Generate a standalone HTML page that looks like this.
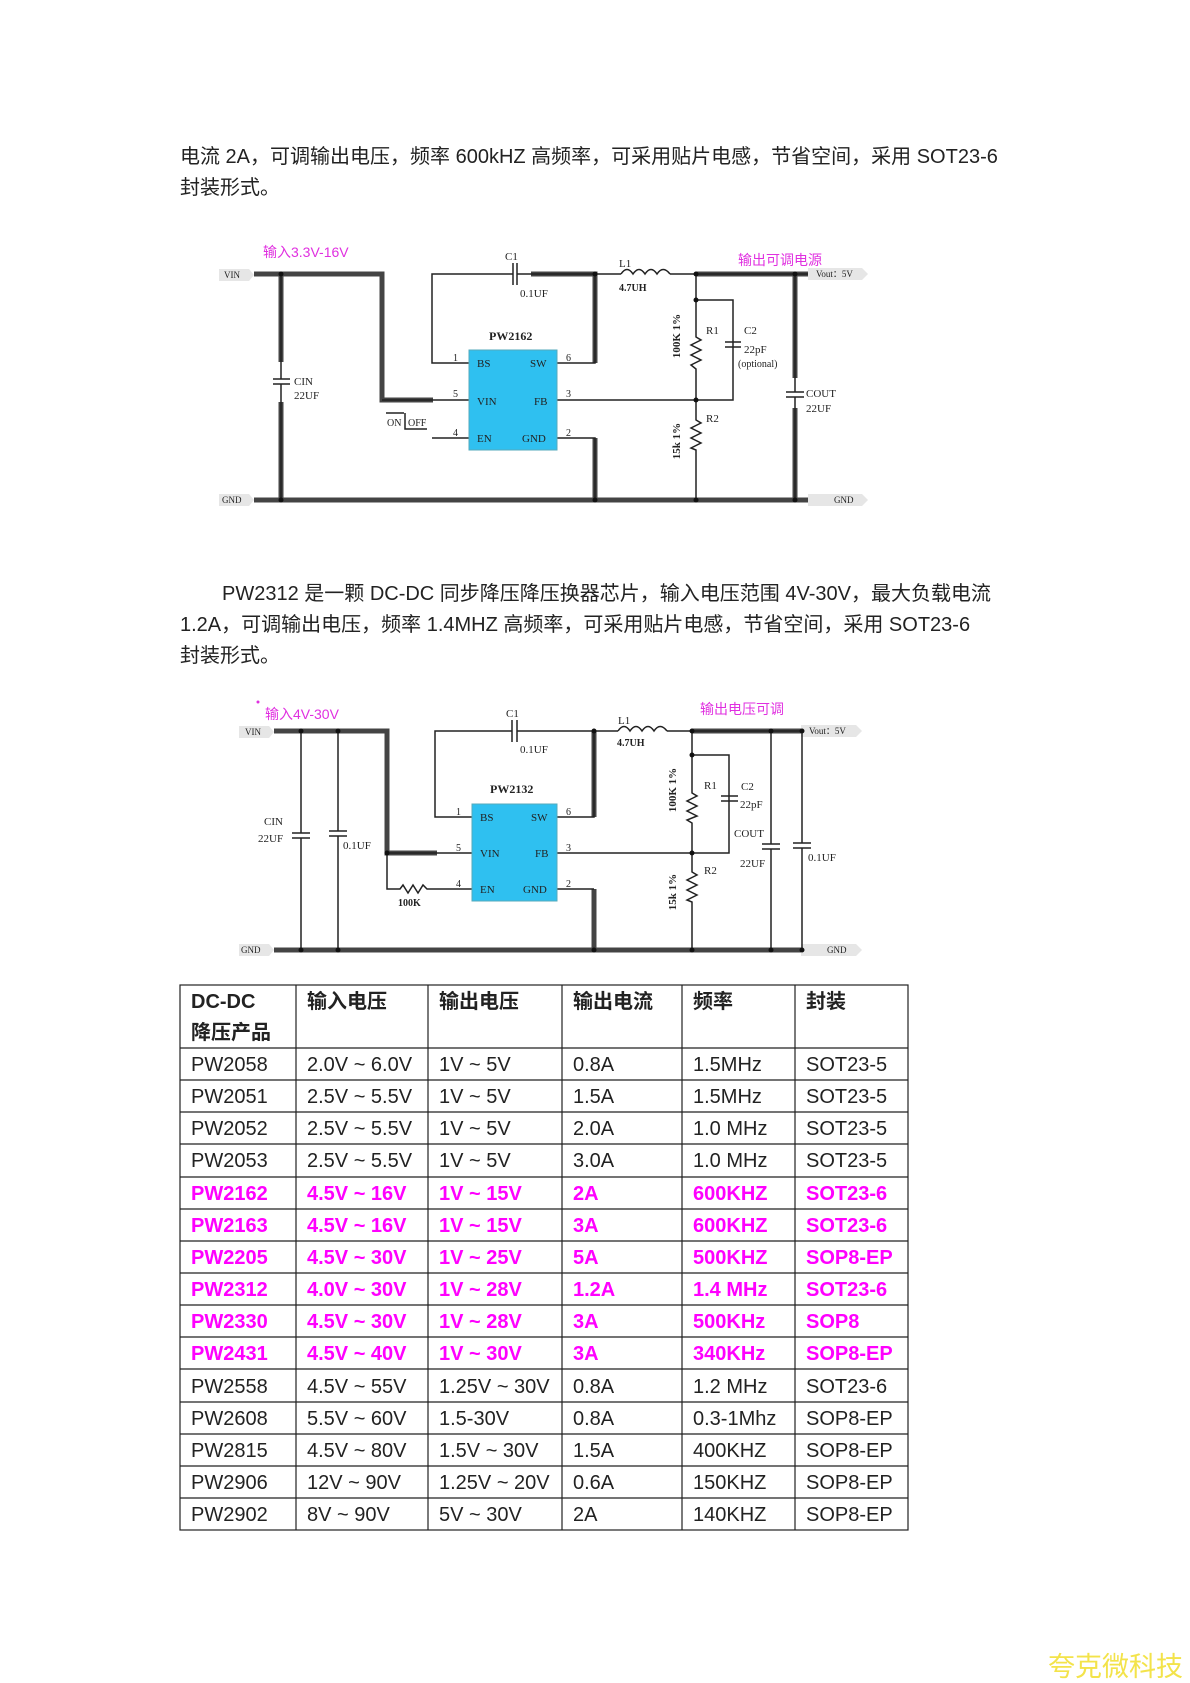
<!DOCTYPE html>
<html><head><meta charset="utf-8"><style>
html,body{margin:0;padding:0;background:#fff;width:1190px;height:1683px;overflow:hidden}
svg{display:block}
.p{font-family:"Liberation Sans","Noto Sans CJK SC",sans-serif;font-size:20px;fill:#222}
.s{font-family:"Liberation Serif",serif;fill:#222}
.m{font-family:"Liberation Sans","Noto Sans CJK SC",sans-serif;fill:#e030e0;font-size:14px}
.t{font-family:"Liberation Sans","Noto Sans CJK SC",sans-serif;font-size:20px;fill:#222}
.tm{fill:#ff00ff;font-weight:bold}
.w{stroke:#222;stroke-width:1.5;fill:none}
.k{stroke:#444;stroke-width:5;fill:none}
</style></head><body>
<svg width="1190" height="1683" viewBox="0 0 1190 1683" xmlns="http://www.w3.org/2000/svg">
<text class="p" x="180" y="163">电流 2A，可调输出电压，频率 600kHZ 高频率，可采用贴片电感，节省空间，采用 SOT23-6</text>
<text class="p" x="180" y="194">封装形式。</text>

<!-- Diagram 1 -->
<g>
<polygon points="219,269 249,269 254,275 249,281 219,281" fill="#e6e6e6"/>
<text class="s" x="224" y="278" font-size="9">VIN</text>
<polygon points="219,494 249,494 254,500 249,506 219,506" fill="#e6e6e6"/>
<text class="s" x="222" y="503" font-size="9">GND</text>
<polygon points="808,268 862,268 868,274 862,280 808,280" fill="#e6e6e6"/>
<text class="s" x="816" y="277" font-size="9">Vout：5V</text>
<polygon points="808,494 862,494 868,500 862,506 808,506" fill="#e6e6e6"/>
<text class="s" x="834" y="503" font-size="9">GND</text>
<path class="k" d="M254,274 H382 V400 H433"/>
<path class="k" d="M531,274 H595 V363"/>
<path class="k" d="M696,274 H808"/>
<path class="k" d="M254,500 H808"/>
<path class="k" d="M595,438 V500"/>
<path class="k" d="M281,274 V362 M281,402 V500"/>
<path class="k" d="M795,274 V378 M795,408 V500"/>
<path class="w" d="M382,400 H469"/>
<path class="w" d="M469,363 H432 V274 H513 M517,274 H595 V363 H557"/>
<path class="w" d="M595,274 H621 M670,274 H808"/>
<path class="w" d="M621,274 q6,-9 12,0 q6,-9 12,0 q6,-9 12,0 q6,-9 13,0"/>
<path class="w" d="M557,400 H733 V300 H696"/>
<path class="w" d="M696,274 V337 l5,3 -10,5 10,5 -10,5 10,5 -10,5 5,4 V420 l5,3 -10,5 10,5 -10,5 10,5 -10,5 5,2 V500"/>
<path class="w" d="M725,342 H741 M725,347 H741"/>
<path class="w" d="M273,379 H290 M273,384 H290 M281,274 V379 M281,384 V500"/>
<path class="w" d="M786,392 H804 M786,397 H804 M795,274 V392 M795,397 V500"/>
<path class="w" d="M513,263 V285 M517,263 V285" stroke-width="2"/>
<path class="w" d="M557,438 H595 V500 M432,438 H469"/>
<path class="w" d="M405,413 V429 H427 M386,413 H404"/>
<g fill="#111"><circle cx="281" cy="274" r="2.5"/><circle cx="281" cy="500" r="2.5"/><circle cx="595" cy="274" r="2.5"/><circle cx="595" cy="500" r="2.5"/><circle cx="696" cy="274" r="2.5"/><circle cx="696" cy="300" r="2.5"/><circle cx="696" cy="400" r="2.5"/><circle cx="696" cy="500" r="2.5"/><circle cx="795" cy="274" r="2.5"/><circle cx="795" cy="500" r="2.5"/></g>
<rect x="469" y="350" width="88" height="100" fill="#2fc0f0" stroke="#5ab"/>
<g class="s" font-size="11"><text x="477" y="367">BS</text><text x="530" y="367">SW</text><text x="477" y="405">VIN</text><text x="534" y="405">FB</text><text x="477" y="442">EN</text><text x="522" y="442">GND</text>
<text x="453" y="361" font-size="10">1</text><text x="453" y="397" font-size="10">5</text><text x="453" y="436" font-size="10">4</text><text x="566" y="361" font-size="10">6</text><text x="566" y="397" font-size="10">3</text><text x="566" y="436" font-size="10">2</text>
<text x="505" y="260">C1</text><text x="520" y="297">0.1UF</text><text x="619" y="267">L1</text><text x="619" y="291" font-weight="bold" font-size="10">4.7UH</text>
<text x="489" y="340" font-weight="bold" font-size="12">PW2162</text>
<text x="706" y="334">R1</text><text x="744" y="334">C2</text><text x="744" y="353">22pF</text><text x="738" y="367" font-size="10">(optional)</text>
<text x="706" y="422">R2</text>
<text x="294" y="385">CIN</text><text x="294" y="399">22UF</text>
<text x="806" y="397">COUT</text><text x="806" y="412">22UF</text>
<text x="387" y="426" font-size="10">ON</text><text x="408" y="426" font-size="10">OFF</text>
<text transform="translate(676,336) rotate(-90)" text-anchor="middle" font-weight="bold" font-size="11" dy="4">100K 1%</text>
<text transform="translate(676,441) rotate(-90)" text-anchor="middle" font-weight="bold" font-size="11" dy="4">15k 1%</text>
</g>
<text class="m" x="263" y="257">输入3.3V-16V</text>
<text class="m" x="738" y="265">输出可调电源</text>
</g>

<text class="p" x="222" y="600">PW2312 是一颗 DC-DC 同步降压降压换器芯片，输入电压范围 4V-30V，最大负载电流</text>
<text class="p" x="180" y="631">1.2A，可调输出电压，频率 1.4MHZ 高频率，可采用贴片电感，节省空间，采用 SOT23-6</text>
<text class="p" x="180" y="662">封装形式。</text>

<!-- Diagram 2 -->
<g>
<polygon points="239,726 269,726 274,732 269,738 239,738" fill="#e6e6e6"/>
<text class="s" x="245" y="735" font-size="9">VIN</text>
<polygon points="239,944 269,944 274,950 269,956 239,956" fill="#e6e6e6"/>
<text class="s" x="241" y="953" font-size="9">GND</text>
<polygon points="801,725 856,725 862,731 856,737 801,737" fill="#e6e6e6"/>
<text class="s" x="809" y="734" font-size="9">Vout：5V</text>
<polygon points="801,944 856,944 862,950 856,956 801,956" fill="#e6e6e6"/>
<text class="s" x="827" y="953" font-size="9">GND</text>
<path class="k" d="M274,731 H387 V853 H437"/>
<path class="k" d="M594,731 V817"/>
<path class="k" d="M692,731 H801"/>
<path class="k" d="M274,950 H801"/>
<path class="k" d="M594,889 V950"/>
<path class="w" d="M387,853 H472 M472,817 H435 V731 H512 M517,731 H594 V817 H557"/>
<path class="w" d="M594,731 H618 M667,731 H801"/>
<path class="w" d="M618,731 q6,-9 12,0 q6,-9 12,0 q6,-9 12,0 q6,-9 13,0"/>
<path class="w" d="M512,720 V742 M517,720 V742" stroke-width="2"/>
<path class="w" d="M387,853 V889 H400 l3,-4 5,8 5,-8 5,8 5,-8 4,4 H472"/>
<path class="w" d="M557,853 H729 V755 H692"/>
<path class="w" d="M692,731 V793 l5,3 -10,5 10,5 -10,5 10,5 -10,4 5,3 V872 l5,3 -10,5 10,5 -10,5 10,5 -10,5 5,2 V950"/>
<path class="w" d="M721,796 H738 M721,801 H738"/>
<path class="w" d="M301,731 V833 M301,838 V950 M292,833 H310 M292,838 H310"/>
<path class="w" d="M338,731 V831 M338,836 V950 M329,831 H347 M329,836 H347"/>
<path class="w" d="M771,731 V844 M771,849 V950 M762,844 H780 M762,849 H780"/>
<path class="w" d="M802,731 V843 M802,848 V950 M793,843 H811 M793,848 H811"/>
<path class="w" d="M557,889 H594"/>
<g fill="#111"><circle cx="301" cy="731" r="2.5"/><circle cx="338" cy="731" r="2.5"/><circle cx="301" cy="950" r="2.5"/><circle cx="338" cy="950" r="2.5"/><circle cx="387" cy="853" r="2.5"/><circle cx="594" cy="731" r="2.5"/><circle cx="594" cy="950" r="2.5"/><circle cx="692" cy="731" r="2.5"/><circle cx="692" cy="755" r="2.5"/><circle cx="692" cy="853" r="2.5"/><circle cx="692" cy="950" r="2.5"/><circle cx="771" cy="731" r="2.5"/><circle cx="771" cy="950" r="2.5"/><circle cx="802" cy="731" r="2.5"/><circle cx="802" cy="950" r="2.5"/></g>
<rect x="472" y="804" width="85" height="97" fill="#2fc0f0" stroke="#5ab"/>
<g class="s" font-size="11"><text x="480" y="821">BS</text><text x="531" y="821">SW</text><text x="480" y="857">VIN</text><text x="535" y="857">FB</text><text x="480" y="893">EN</text><text x="523" y="893">GND</text>
<text x="456" y="815" font-size="10">1</text><text x="456" y="851" font-size="10">5</text><text x="456" y="887" font-size="10">4</text><text x="566" y="815" font-size="10">6</text><text x="566" y="851" font-size="10">3</text><text x="566" y="887" font-size="10">2</text>
<text x="506" y="717">C1</text><text x="520" y="753">0.1UF</text><text x="618" y="724">L1</text><text x="617" y="746" font-weight="bold" font-size="10">4.7UH</text>
<text x="490" y="793" font-weight="bold" font-size="12">PW2132</text>
<text x="704" y="789">R1</text><text x="741" y="790">C2</text><text x="740" y="808">22pF</text>
<text x="734" y="837">COUT</text><text x="740" y="867">22UF</text><text x="808" y="861">0.1UF</text>
<text x="704" y="874">R2</text>
<text x="264" y="825">CIN</text><text x="258" y="842">22UF</text><text x="343" y="849">0.1UF</text>
<text x="398" y="906" font-weight="bold" font-size="10">100K</text>
<text transform="translate(672,790) rotate(-90)" text-anchor="middle" font-weight="bold" font-size="11" dy="4">100K 1%</text>
<text transform="translate(672,892) rotate(-90)" text-anchor="middle" font-weight="bold" font-size="11" dy="4">15k 1%</text>
</g>
<circle cx="258" cy="702" r="1.5" fill="#e030e0"/>
<text class="m" x="265" y="719">输入4V-30V</text>
<text class="m" x="700" y="714">输出电压可调</text>
</g>

<!-- Table -->
<g stroke="#222" stroke-width="1.2" fill="none">
<rect x="180" y="985" width="728" height="545"/>
<path d="M296,985 V1530 M428,985 V1530 M562,985 V1530 M682,985 V1530 M795,985 V1530"/>
<path d="M180,1048 H908 M180,1080 H908 M180,1112 H908 M180,1144 H908 M180,1177 H908 M180,1209 H908 M180,1241 H908 M180,1273 H908 M180,1305 H908 M180,1337 H908 M180,1369 H908 M180,1402 H908 M180,1434 H908 M180,1466 H908 M180,1498 H908"/>
</g>
<g class="t" font-weight="bold">
<text x="191" y="1008">DC-DC</text><text x="191" y="1039">降压产品</text>
<text x="307" y="1008">输入电压</text><text x="439" y="1008">输出电压</text><text x="573" y="1008">输出电流</text><text x="693" y="1008">频率</text><text x="806" y="1008">封装</text>
</g>
<g class="t">
<g transform="translate(0,1071)"><text x="191">PW2058</text><text x="307">2.0V ~ 6.0V</text><text x="439">1V ~ 5V</text><text x="573">0.8A</text><text x="693">1.5MHz</text><text x="806">SOT23-5</text></g>
<g transform="translate(0,1103)"><text x="191">PW2051</text><text x="307">2.5V ~ 5.5V</text><text x="439">1V ~ 5V</text><text x="573">1.5A</text><text x="693">1.5MHz</text><text x="806">SOT23-5</text></g>
<g transform="translate(0,1135)"><text x="191">PW2052</text><text x="307">2.5V ~ 5.5V</text><text x="439">1V ~ 5V</text><text x="573">2.0A</text><text x="693">1.0 MHz</text><text x="806">SOT23-5</text></g>
<g transform="translate(0,1167)"><text x="191">PW2053</text><text x="307">2.5V ~ 5.5V</text><text x="439">1V ~ 5V</text><text x="573">3.0A</text><text x="693">1.0 MHz</text><text x="806">SOT23-5</text></g>
<g class="tm">
<g transform="translate(0,1200)"><text x="191">PW2162</text><text x="307">4.5V ~ 16V</text><text x="439">1V ~ 15V</text><text x="573">2A</text><text x="693">600KHZ</text><text x="806">SOT23-6</text></g>
<g transform="translate(0,1232)"><text x="191">PW2163</text><text x="307">4.5V ~ 16V</text><text x="439">1V ~ 15V</text><text x="573">3A</text><text x="693">600KHZ</text><text x="806">SOT23-6</text></g>
<g transform="translate(0,1264)"><text x="191">PW2205</text><text x="307">4.5V ~ 30V</text><text x="439">1V ~ 25V</text><text x="573">5A</text><text x="693">500KHZ</text><text x="806">SOP8-EP</text></g>
<g transform="translate(0,1296)"><text x="191">PW2312</text><text x="307">4.0V ~ 30V</text><text x="439">1V ~ 28V</text><text x="573">1.2A</text><text x="693">1.4 MHz</text><text x="806">SOT23-6</text></g>
<g transform="translate(0,1328)"><text x="191">PW2330</text><text x="307">4.5V ~ 30V</text><text x="439">1V ~ 28V</text><text x="573">3A</text><text x="693">500KHz</text><text x="806">SOP8</text></g>
<g transform="translate(0,1360)"><text x="191">PW2431</text><text x="307">4.5V ~ 40V</text><text x="439">1V ~ 30V</text><text x="573">3A</text><text x="693">340KHz</text><text x="806">SOP8-EP</text></g>
</g>
<g transform="translate(0,1393)"><text x="191">PW2558</text><text x="307">4.5V ~ 55V</text><text x="439">1.25V ~ 30V</text><text x="573">0.8A</text><text x="693">1.2 MHz</text><text x="806">SOT23-6</text></g>
<g transform="translate(0,1425)"><text x="191">PW2608</text><text x="307">5.5V ~ 60V</text><text x="439">1.5-30V</text><text x="573">0.8A</text><text x="693">0.3-1Mhz</text><text x="806">SOP8-EP</text></g>
<g transform="translate(0,1457)"><text x="191">PW2815</text><text x="307">4.5V ~ 80V</text><text x="439">1.5V ~ 30V</text><text x="573">1.5A</text><text x="693">400KHZ</text><text x="806">SOP8-EP</text></g>
<g transform="translate(0,1489)"><text x="191">PW2906</text><text x="307">12V ~ 90V</text><text x="439">1.25V ~ 20V</text><text x="573">0.6A</text><text x="693">150KHZ</text><text x="806">SOP8-EP</text></g>
<g transform="translate(0,1521)"><text x="191">PW2902</text><text x="307">8V ~ 90V</text><text x="439">5V ~ 30V</text><text x="573">2A</text><text x="693">140KHZ</text><text x="806">SOP8-EP</text></g>
</g>
<text x="1048" y="1676" font-family="'Liberation Sans','Noto Sans CJK SC',sans-serif" font-size="27" fill="#f3e34a">夸克微科技</text>
</svg>
</body></html>
